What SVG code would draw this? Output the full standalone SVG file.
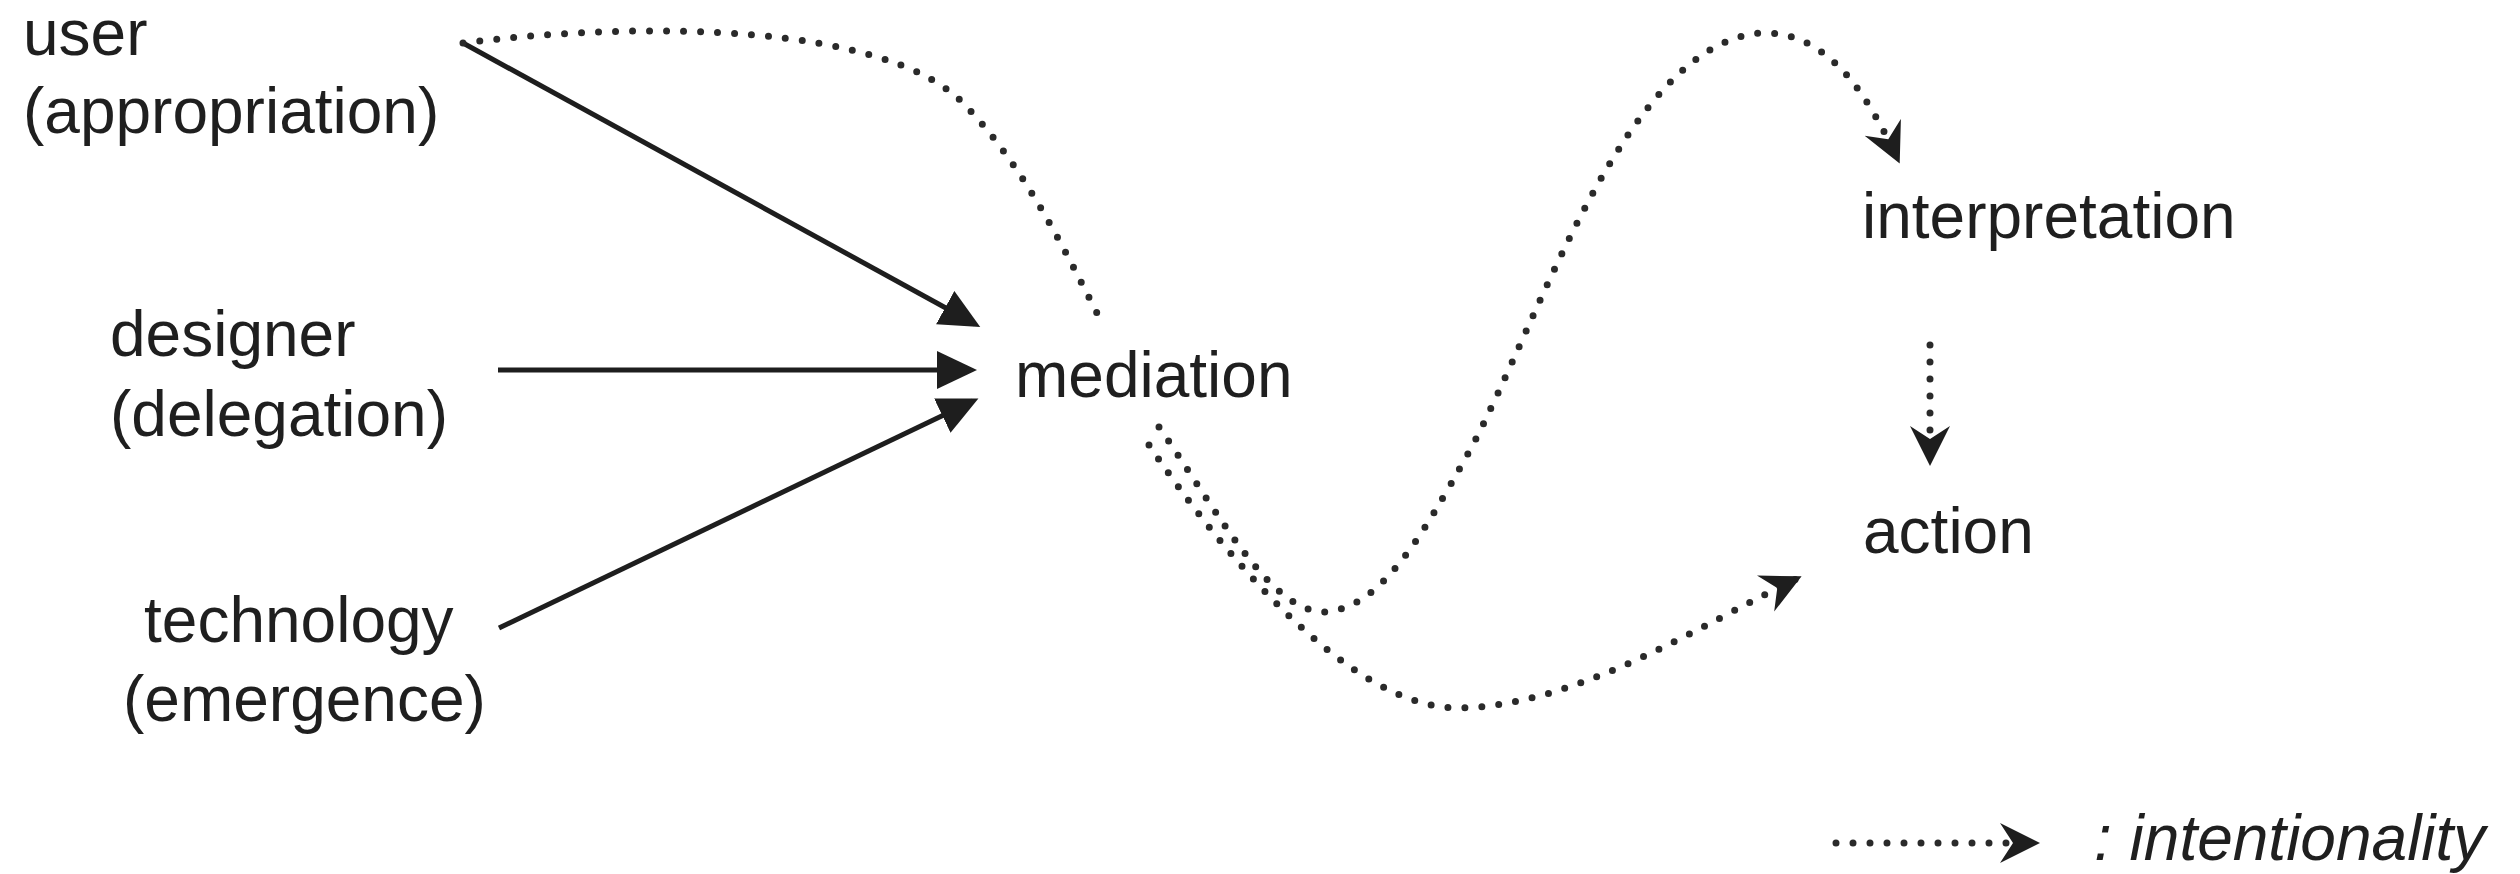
<svg xmlns="http://www.w3.org/2000/svg" width="2520" height="874" viewBox="0 0 2520 874">
<defs>
<style>
.t{font-family:"Liberation Sans",Arial,Helvetica,sans-serif;font-size:64px;fill:#1f1f1f}
.i{font-style:italic}
.solid{fill:none;stroke:#1e1e1e;stroke-width:5}
.dot{fill:none;stroke:#2a2a2a;stroke-width:7;stroke-linecap:round;stroke-dasharray:0 17}
</style>
<marker id="tri" markerUnits="userSpaceOnUse" markerWidth="42" markerHeight="40" viewBox="0 0 42 40" refX="34" refY="19" orient="auto">
<path d="M0,0 L40,19 L0,38 z" fill="#1e1e1e"/>
</marker>
<marker id="stealth" markerUnits="userSpaceOnUse" markerWidth="42" markerHeight="42" viewBox="0 0 42 42" refX="36" refY="20" orient="auto">
<path d="M0,0 L40,20 L0,40 L13,20 z" fill="#1e1e1e"/>
</marker>
</defs>
<rect width="2520" height="874" fill="#ffffff"/>
<g id="connectors">
<path class="solid" d="M463,43 L975,324" marker-end="url(#tri)"/>
<path class="solid" d="M498,370 L971,370" marker-end="url(#tri)"/>
<path class="solid" d="M499,628 L973,401" marker-end="url(#tri)"/>
<path class="dot" d="M463,43 C650,20 880,25 960,100 C1020,160 1060,240 1103,325"/>
<path class="dot" d="M1159,427 C1220,515 1270,612 1325,612 C1380,608 1420,540 1470,450 C1540,320 1625,45 1760,33 C1830,30 1870,100 1898,160" marker-end="url(#stealth)"/>
<path class="dot" d="M1149,445 C1220,550 1350,710 1460,708 C1580,705 1700,625 1798,578" marker-end="url(#stealth)"/>
<path class="dot" d="M1930,345 L1930,462" marker-end="url(#stealth)"/>
</g>
<g id="node-user"><text class="t" x="23" y="55">user</text><text class="t" x="23" y="133">(appropriation)</text></g>
<g id="node-designer"><text class="t" x="110" y="356">designer</text><text class="t" x="110" y="436">(delegation)</text></g>
<g id="node-technology"><text class="t" x="144" y="642">technology</text><text class="t" x="123" y="721">(emergence)</text></g>
<g id="node-mediation"><text class="t" x="1015" y="397">mediation</text></g>
<g id="node-interpretation"><text class="t" x="1862" y="238">interpretation</text></g>
<g id="node-action"><text class="t" x="1863" y="553">action</text></g>
<g id="legend">
<path class="dot" d="M1836,843 L2036,843" marker-end="url(#stealth)"/>
<text class="t i" x="2094" y="860">: intentionality</text>
</g>
</svg>
